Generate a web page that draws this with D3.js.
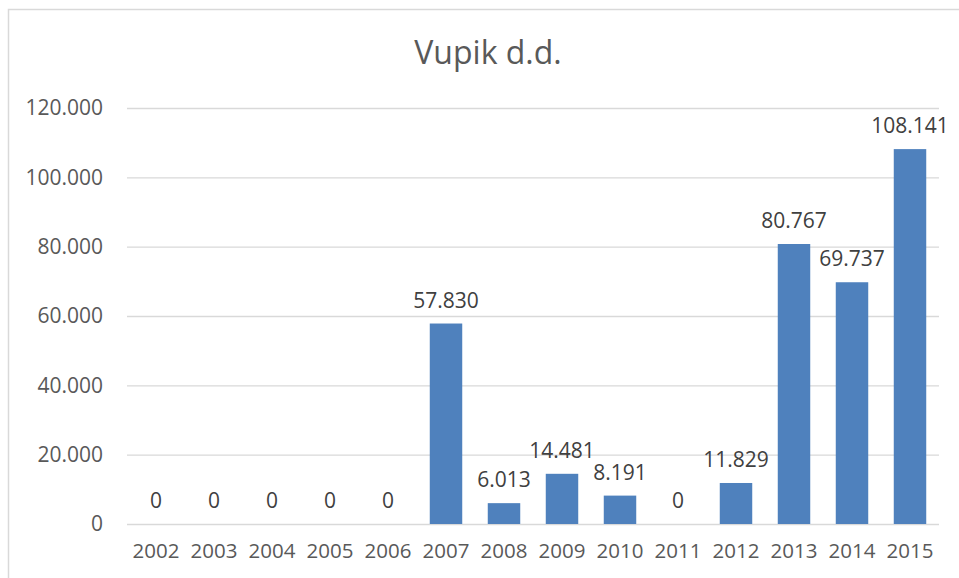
<!DOCTYPE html>
<html>
<head>
<meta charset="utf-8">
<script src="https://cdn.jsdelivr.net/npm/d3@7"></script>
<style>
  body { margin: 0; background: #fff; }
  svg { display: block; font-family: "Open Sans", sans-serif; }
</style>
</head>
<body>
<div class="svg-container"></div>
<script>
//Data
const title = 'Vupik d.d.';
const years = ['2002', '2003', '2004', '2005', '2006', '2007', '2008', '2009', '2010', '2011', '2012', '2013', '2014', '2015'];
const values = [0, 0, 0, 0, 0, 57830, 6013, 14481, 8191, 0, 11829, 80767, 69737, 108141];
const yTicks = [0, 20000, 40000, 60000, 80000, 100000, 120000];

//croatian style numbers: 120.000
const hr = d3.formatLocale({decimal: ',', thousands: '.', grouping: [3], currency: ['', '']});
const fmt = hr.format(',.0f');

const W = 959, H = 578;
const margin = {top: 108, right: 20, bottom: 54, left: 127};
const width = 939 - margin.left;
const height = 524 - margin.top;

const svg = d3.select('.svg-container')
    .append('svg')
    .attr('width', W)
    .attr('height', H);

//chart frame
svg.append('rect')
    .attr('x', 8.5)
    .attr('y', 9.5)
    .attr('width', 960)
    .attr('height', 600)
    .attr('fill', 'none')
    .attr('stroke', '#d9d9d9')
    .attr('stroke-width', 1.5);

svg.append('text')
    .attr('x', 488)
    .attr('y', 64)
    .attr('text-anchor', 'middle')
    .attr('fill', '#595959')
    .style('font-size', '32px')
    .text(title);

const g = svg.append('g')
    .attr('transform', `translate(${margin.left}, ${margin.top})`);

const x = d3.scaleBand()
    .domain(years)
    .range([0, width])
    .paddingInner(0.44)
    .paddingOuter(0.22);

const y = d3.scaleLinear()
    .domain([0, 120000])
    .range([height, 0]);

//gridlines + y labels
const yAxis = g.append('g')
    .call(d3.axisLeft(y).tickValues(yTicks).tickSize(-width).tickPadding(24).tickFormat(fmt));
yAxis.select('.domain').remove();
yAxis.selectAll('.tick line')
    .attr('stroke', '#d9d9d9')
    .attr('stroke-width', 1.3);
yAxis.selectAll('.tick text')
    .attr('fill', '#595959')
    .style('font-size', '21px')
    .style('font-family', '"Open Sans", sans-serif');

//x labels
const xAxis = g.append('g')
    .attr('transform', `translate(0, ${height})`)
    .call(d3.axisBottom(x).tickSize(0).tickPadding(19));
xAxis.select('.domain').remove();
xAxis.selectAll('.tick text')
    .attr('fill', '#595959')
    .style('font-size', '20.5px')
    .style('font-family', '"Open Sans", sans-serif');

//bars
g.selectAll('.bar')
    .data(values)
    .enter().append('rect')
    .attr('class', 'bar')
    .attr('x', (d, i) => x(years[i]))
    .attr('y', d => y(d))
    .attr('width', x.bandwidth())
    .attr('height', d => height - y(d))
    .attr('fill', '#4f81bd');

//data labels
g.selectAll('.lbl')
    .data(values)
    .enter().append('text')
    .attr('class', 'lbl')
    .attr('x', (d, i) => x(years[i]) + x.bandwidth() / 2)
    .attr('y', d => y(d) - 16)
    .attr('text-anchor', 'middle')
    .attr('fill', '#404040')
    .style('font-size', '21px')
    .text(d => fmt(d));
</script>
</body>
</html>
